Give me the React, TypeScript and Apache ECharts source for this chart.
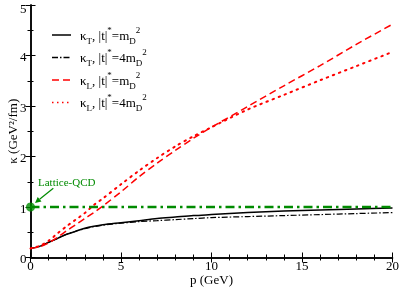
import React, { useEffect, useRef } from "react";
import * as echarts from "echarts";

const P = [0, 0.5, 1, 1.5, 2, 2.5, 3, 3.5, 4, 5, 6, 7, 8, 9, 10, 12, 14, 16, 18, 20];
const kappaT_m = [0.18, 0.22, 0.3, 0.38, 0.46, 0.52, 0.58, 0.62, 0.65, 0.69, 0.73, 0.77, 0.8, 0.83, 0.85, 0.89, 0.92, 0.94, 0.96, 0.98];
const kappaT_4m = [0.18, 0.22, 0.3, 0.38, 0.46, 0.52, 0.57, 0.61, 0.64, 0.68, 0.71, 0.73, 0.75, 0.77, 0.79, 0.81, 0.83, 0.85, 0.87, 0.89];
const kappaL_m = [0.18, 0.21, 0.29, 0.4, 0.53, 0.65, 0.77, 0.89, 1.02, 1.3, 1.6, 1.87, 2.12, 2.36, 2.58, 2.99, 3.4, 3.8, 4.22, 4.62];
const kappaL_4m = [0.18, 0.23, 0.33, 0.48, 0.62, 0.75, 0.88, 1.04, 1.17, 1.45, 1.72, 1.97, 2.2, 2.4, 2.58, 2.93, 3.22, 3.51, 3.79, 4.07];
const latticeP = [0, 20];
const latticeK = [1.0, 1.0];
const xTicks = ["0", "5", "10", "15", "20"];
const yTicks = ["0", "1", "2", "3", "4", "5"];

const FONT = "'Liberation Serif', 'DejaVu Serif', serif";
const RED = "#ff0000";
const GREEN = "#008b00";

const legendRows = [
  { sub: "T", rhs: "=m", color: "#000", dash: null as number[] | null },
  { sub: "T", rhs: "=4m", color: "#000", dash: [6, 2, 1.5, 2] },
  { sub: "L", rhs: "=m", color: RED, dash: [7, 4] },
  { sub: "L", rhs: "=4m", color: RED, dash: [1.5, 3.5] },
];

export default function App() {
  const ref = useRef<HTMLDivElement>(null);
  useEffect(() => {
    if (!ref.current) return;
    const chart = echarts.init(ref.current, null, { renderer: "svg" });
    const pairs = (ys: number[]) => P.map((p, i) => [p, ys[i]]);

    const axisLine = { show: true, lineStyle: { color: "#000", width: 1.5 } };
    const axisTick = { inside: true, length: 5, lineStyle: { color: "#000", width: 1 } };
    const minorTickX = { show: true, splitNumber: 5, length: 3, lineStyle: { color: "#000", width: 1 } };
    const minorTickY = { show: true, splitNumber: 2, length: 3, lineStyle: { color: "#000", width: 1 } };
    const label = { color: "#000", fontFamily: FONT, fontSize: 13 };

    const graphics: any[] = [];
    legendRows.forEach((r, i) => {
      const y = 35 + i * 22.5;
      graphics.push({
        type: "line",
        shape: { x1: 52, y1: y, x2: 71, y2: y },
        style: { stroke: r.color, lineWidth: 1.5, lineDash: r.dash || undefined },
      });
      graphics.push({
        type: "text",
        x: 80,
        y: y,
        style: {
          text: `{m|κ}{sub|${r.sub}}{m|, |t|}{sup|*}{m|${r.rhs}}{sub|D}{sup|2}`,
          verticalAlign: "middle",
          align: "left",
          rich: {
            m: { fontSize: 13, fontFamily: FONT, lineHeight: 20, fill: "#000" },
            sub: { fontSize: 9, fontFamily: FONT, lineHeight: 12, verticalAlign: "bottom", fill: "#000" },
            sup: { fontSize: 9, fontFamily: FONT, lineHeight: 8, verticalAlign: "top", fill: "#000" },
          },
        },
      });
    });
    graphics.push({
      type: "text",
      x: 38,
      y: 182,
      style: { text: "Lattice-QCD", fill: GREEN, fontFamily: FONT, fontSize: 11, verticalAlign: "middle" },
    });
    graphics.push({
      type: "line",
      shape: { x1: 53.3, y1: 188.3, x2: 39.6, y2: 199.2 },
      style: { stroke: GREEN, lineWidth: 1.2 },
    });
    graphics.push({
      type: "polygon",
      shape: { points: [[35, 203], [41.5, 201.5], [37.7, 196.9]] },
      style: { fill: GREEN },
    });

    chart.setOption({
      animation: false,
      grid: { left: 30.5, right: 6.5, top: 5, bottom: 29.5, containLabel: false, outerBoundsMode: "none" },
      xAxis: [
        {
          type: "value", min: 0, max: 20, interval: 5, position: "bottom",
          axisLine, axisTick, minorTick: minorTickX, splitLine: { show: false },
          axisLabel: { ...label, margin: 1.5, formatter: (v: number) => xTicks[Math.round(v / 5)] ?? String(v) },
          name: "p (GeV)", nameLocation: "middle", nameGap: 16, nameMoveOverlap: false,
          nameTextStyle: { color: "#000", fontFamily: FONT, fontSize: 13, lineHeight: 12 },
        },
        {
          type: "value", min: 0, max: 20, interval: 5, position: "top",
          axisLine, axisTick, minorTick: minorTickX, splitLine: { show: false },
          axisLabel: { show: false },
        },
      ],
      yAxis: [
        {
          type: "value", min: 0, max: 5, interval: 1, position: "left",
          axisLine, axisTick, minorTick: minorTickY, splitLine: { show: false },
          axisLabel: {
            ...label, margin: 4, lineHeight: 8, padding: [2, 0, 0, 0],
            formatter: (v: number) => {
              const s = yTicks[Math.round(v)] ?? String(v);
              return v === 5 ? `{top|${s}}` : s;
            },
            rich: {
              top: { fontSize: 13, fontFamily: FONT, color: "#000", lineHeight: 8, padding: [4, 0, 0, 0] },
            },
          },
          name: "κ (GeV²/fm)", nameLocation: "middle", nameGap: 12, nameMoveOverlap: false,
          nameTextStyle: { color: "#000", fontFamily: FONT, fontSize: 13 },
        },
        {
          type: "value", min: 0, max: 5, interval: 1, position: "right",
          axisLine, axisTick, minorTick: minorTickY, splitLine: { show: false },
          axisLabel: { show: false },
        },
      ],
      series: [
        {
          name: "κT, |t|*=mD2", type: "line", data: pairs(kappaT_m), symbol: "none", smooth: 0.3,
          lineStyle: { color: "#000", width: 1.5, type: "solid" },
        },
        {
          name: "κT, |t|*=4mD2", type: "line", data: pairs(kappaT_4m), symbol: "none", smooth: 0.3,
          lineStyle: { color: "#000", width: 1.2, type: [6, 2, 1.5, 2] },
        },
        {
          name: "κL, |t|*=mD2", type: "line", data: pairs(kappaL_m), symbol: "none", smooth: 0.3,
          lineStyle: { color: RED, width: 1.5, type: [7, 4] },
        },
        {
          name: "κL, |t|*=4mD2", type: "line", data: pairs(kappaL_4m), symbol: "none", smooth: 0.3,
          lineStyle: { color: RED, width: 2, type: [1.5, 5], cap: "round" },
        },
        {
          name: "Lattice-QCD", type: "line", data: latticeP.map((p, i) => [p, latticeK[i]]), symbol: "none",
          lineStyle: { color: GREEN, width: 2.5, type: [9, 4, 2.5, 4] },
        },
        {
          name: "Lattice-QCD point", type: "scatter", data: [[latticeP[0], latticeK[0]]], symbol: "circle",
          symbolSize: 9, clip: false, itemStyle: { color: GREEN }, z: 5,
        },
      ],
      graphic: graphics,
    });
    return () => chart.dispose();
  }, []);
  return <div ref={ref} style={{ position: "fixed", left: 0, top: 0, width: 399, height: 287 }} />;
}
